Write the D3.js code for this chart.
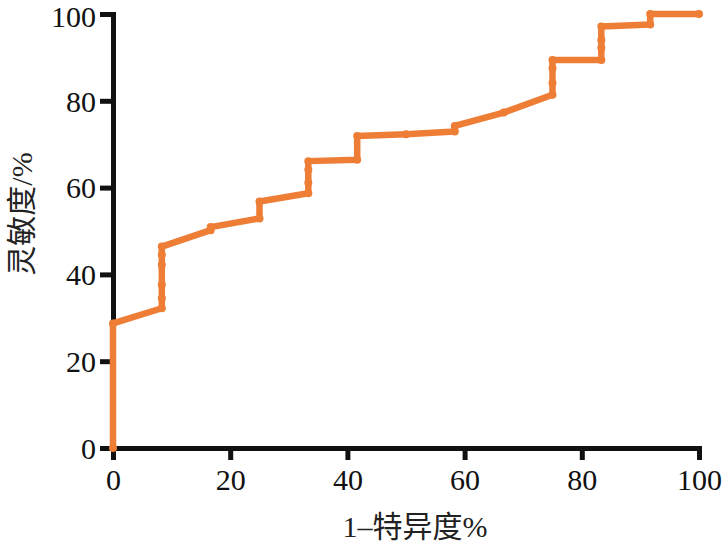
<!DOCTYPE html>
<html><head><meta charset="utf-8">
<script src="https://cdn.jsdelivr.net/npm/d3@7"></script>
<style>
html,body{margin:0;padding:0;background:#fff;}
svg{display:block;}
</style></head>
<body>
<svg id="chart" width="725" height="544"></svg>
<script>
// ROC curve data (1 - specificity %, sensitivity %)
const fpr = [0, 0, 8.33, 8.33, 8.33, 8.33, 8.33, 8.33, 16.67, 16.67, 25, 25, 33.33, 33.33, 33.33, 33.33, 41.67, 41.67, 50, 58.33, 58.33, 66.67, 75, 75, 75, 75, 83.33, 83.33, 83.33, 83.33, 91.67, 91.67, 100];
const tpr = [0, 28.7, 32.2, 34.5, 37.6, 42.2, 44.5, 46.4, 50.2, 50.9, 52.9, 56.8, 58.7, 61.1, 64.1, 66.1, 66.4, 71.9, 72.3, 72.9, 74.2, 77.3, 81.4, 84.1, 87.5, 89.4, 89.4, 92.2, 94.0, 97.1, 97.6, 100, 100];
const xTicks = [0, 20, 40, 60, 80, 100];
const yTicks = [0, 20, 40, 60, 80, 100];
const xTitle = "1\u2013特异度%";
const yTitle = "灵敏度/%";

const svg = d3.select("#chart");
const x = d3.scaleLinear().domain([0, 100]).range([113, 699]);
const y = d3.scaleLinear().domain([0, 100]).range([448, 14]);
const font = "'Liberation Serif','Times New Roman',serif";

const gx = svg.append("g").attr("transform", "translate(0,448)")
  .call(d3.axisBottom(x).tickValues(xTicks).tickSize(12).tickSizeOuter(0).tickPadding(9));
const gy = svg.append("g").attr("transform", "translate(113,0)")
  .call(d3.axisLeft(y).tickValues(yTicks).tickSize(13).tickSizeOuter(0).tickPadding(4));

[gx, gy].forEach(g => {
  g.select(".domain").attr("stroke", "#111").attr("stroke-width", 5).attr("stroke-linecap", "square");
  g.selectAll(".tick line").attr("stroke", "#111").attr("stroke-width", 5);
  g.selectAll(".tick text").attr("fill", "#111").style("font-family", font).style("font-size", "30px");
});
gy.selectAll(".tick text").attr("dy", d => d === 100 ? "0.43em" : "0.34em");
gx.selectAll(".tick text").attr("dy", "0.71em");

const pts = fpr.map((d, i) => [d, tpr[i]]);
const color = "#EE7D36";
svg.append("path").datum(pts)
  .attr("fill", "none").attr("stroke", color).attr("stroke-width", 6.5)
  .attr("stroke-linejoin", "round").attr("stroke-linecap", "round")
  .attr("d", d3.line().x(d => x(d[0])).y(d => y(d[1])));
svg.append("g").selectAll("circle").data(pts).join("circle")
  .attr("cx", d => x(d[0])).attr("cy", d => y(d[1])).attr("r", 4).attr("fill", color);

svg.append("text").attr("x", 415).attr("y", 537).attr("text-anchor", "middle")
  .style("font-family", "'Liberation Serif','Noto Sans CJK SC',serif").style("font-size", "30px").attr("fill", "#222")
  .text(xTitle);
svg.append("text").attr("transform", "translate(32,214) rotate(-90)").attr("text-anchor", "middle")
  .style("font-family", "'Liberation Serif','Noto Sans CJK SC',serif").style("font-size", "30px").attr("fill", "#222")
  .text(yTitle);
</script>
</body></html>
